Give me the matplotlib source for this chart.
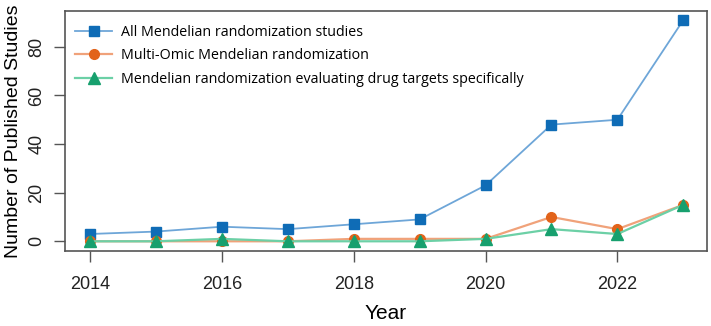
import matplotlib.pyplot as plt

# -----------------------
# Data
# -----------------------
years = [2014, 2015, 2016, 2017, 2018, 2019, 2020, 2021, 2022, 2023]
all_mr = [3, 4, 6, 5, 7, 9, 23, 48, 50, 91]
multi_omic = [0, 0, 0, 0, 1, 1, 1, 10, 5, 15]
drug_targets = [0, 0, 1, 0, 0, 0, 1, 5, 3, 15]

labels = [
    "All Mendelian randomization studies",
    "Multi-Omic Mendelian randomization",
    "Mendelian randomization evaluating drug targets specifically",
]
x_ticks = [2014, 2016, 2018, 2020, 2022]
y_ticks = [0, 20, 40, 60, 80]

plt.rcParams["font.family"] = ["Liberation Sans", "DejaVu Sans"]

# -----------------------
# Plot
# -----------------------
fig = plt.figure(figsize=(7.11, 3.26), dpi=100)
ax = fig.add_axes([0.0914, 0.230, 0.9030, 0.736])

ax.plot(years, all_mr, color="#6ea6d8", linewidth=1.3, marker="s",
        markersize=7, markerfacecolor="#0f6cb6", markeredgecolor="#0f6cb6",
        label=labels[0], zorder=3)
ax.plot(years, multi_omic, color="#f0a27a", linewidth=1.6, marker="o",
        markersize=7, markerfacecolor="#e2631a", markeredgecolor="#e2631a",
        label=labels[1], zorder=3)
ax.plot(years, drug_targets, color="#6cd0a6", linewidth=1.6, marker="^",
        markersize=8, markerfacecolor="#17a06e", markeredgecolor="#17a06e",
        label=labels[2], zorder=4)

ax.set_xlim(2013.62, 2023.36)
ax.set_ylim(-4, 94.7)
ax.set_xticks(x_ticks)
ax.set_yticks(y_ticks)

ax.tick_params(axis="both", direction="out", length=8, width=1,
               color="#555555", labelsize=13, labelcolor="#222222")
ax.tick_params(axis="x", pad=10)
ax.tick_params(axis="y", pad=6)
for lab in ax.get_yticklabels():
    lab.set_rotation(90)
    lab.set_va("center")

for sp in ax.spines.values():
    sp.set_color("#555555")
    sp.set_linewidth(1.2)

ax.set_xlabel("Year", fontsize=15, labelpad=8)
ax.set_ylabel("Number of Published Studies", fontsize=14, labelpad=5)

leg = ax.legend(loc="upper left", frameon=False,
                prop={"family": "Open Sans", "size": 10.3},
                handlelength=2.6, handletextpad=0.6, borderaxespad=0.3,
                labelspacing=0.6, bbox_to_anchor=(0.0, 0.985))

fig.savefig("out.png", dpi=100)
